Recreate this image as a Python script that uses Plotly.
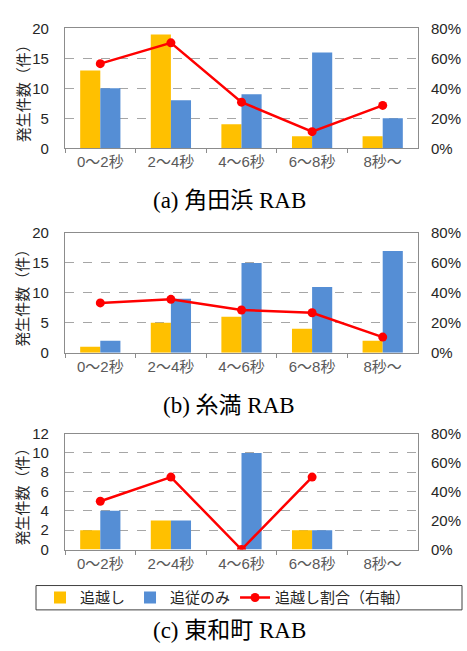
import plotly.graph_objects as go
from plotly.subplots import make_subplots

W, H = 467, 651

categories = ["0～2秒", "2～4秒", "4～6秒", "6～8秒", "8秒～"]

# (a) 角田浜 RAB
a_pass = [13, 19, 4, 2, 2]
a_follow = [10, 8, 9, 16, 5]
a_ratio = [0.565, 0.704, 0.308, 0.111, 0.286]

# (b) 糸満 RAB
b_pass = [1, 5, 6, 4, 2]
b_follow = [2, 9, 15, 11, 17]
b_ratio = [0.333, 0.357, 0.286, 0.267, 0.105]

# (c) 東和町 RAB
c_pass = [2, 3, 0, 2, None]
c_follow = [4, 3, 10, 2, None]
c_ratio = [0.333, 0.5, 0.0, 0.5, None]

panels = [
    ("(a) 角田浜 RAB", a_pass, a_follow, a_ratio, 20, 5),
    ("(b) 糸満 RAB", b_pass, b_follow, b_ratio, 20, 5),
    ("(c) 東和町 RAB", c_pass, c_follow, c_ratio, 12, 2),
]

# plot-area pixel boxes (top, bottom) and caption centres
plot_rows = [(20, 143), (230, 353), (436, 555)]
caption_y = [197, 407, 638]
x_left, x_right = 65, 418

ORANGE = "#FFC000"
BLUE = "#558ED5"
RED = "#FF0000"
FRAME = "#8c8c8c"
SANS = "Liberation Sans, Noto Sans CJK JP, sans-serif"
SERIF = "Liberation Serif, Noto Sans CJK JP, serif"


def px_x(x):
    return x / W


def px_y(y):
    return 1 - y / H


fig = make_subplots(rows=3, cols=1, specs=[[{"secondary_y": True}]] * 3)

annotations = []
for i, (caption, passing, follow, ratio, ymax, dtick) in enumerate(panels):
    row = i + 1
    show = row == 3
    fig.add_trace(go.Bar(x=categories, y=passing, name="追越し", marker_color=ORANGE,
                         marker_line_width=0, showlegend=show),
                  row=row, col=1, secondary_y=False)
    fig.add_trace(go.Bar(x=categories, y=follow, name="追従のみ", marker_color=BLUE,
                         marker_line_width=0, showlegend=show),
                  row=row, col=1, secondary_y=False)
    fig.add_trace(go.Scatter(x=categories, y=ratio, name="追越し割合（右軸）",
                             mode="lines+markers", connectgaps=False,
                             line=dict(color=RED, width=2.5),
                             marker=dict(color=RED, size=9), showlegend=show),
                  row=row, col=1, secondary_y=True)

    top, bottom = plot_rows[i]
    dom = [px_y(bottom), px_y(top)]
    fig.update_xaxes(domain=[px_x(x_left), px_x(x_right)], row=row, col=1,
                     type="category", showline=True, mirror=True, linecolor=FRAME,
                     linewidth=1.3, ticks="outside", tickson="boundaries", ticklen=4,
                     tickcolor=FRAME, tickfont=dict(family=SANS, size=15, color="#595959"),
                     showgrid=False, ticklabelstandoff=0)
    fig.update_yaxes(domain=dom, row=row, col=1, secondary_y=False,
                     range=[0, ymax], dtick=dtick, showline=True, mirror=True,
                     linecolor=FRAME, linewidth=1.3, showgrid=True, gridcolor="#a6a6a6",
                     griddash="dash", gridwidth=1, zeroline=False, ticks="",
                     tickfont=dict(family=SANS, size=15, color="#262626"),
                     ticklabelstandoff=12)
    fig.update_yaxes(row=row, col=1, secondary_y=True, range=[0, 0.8], dtick=0.2,
                     tickformat=".0%", showgrid=False, zeroline=False, showline=False,
                     ticks="", tickfont=dict(family=SANS, size=15, color="#262626"),
                     ticklabelstandoff=12)

    annotations.append(dict(text="発生件数（件）", textangle=-90, xref="paper", yref="paper",
                            x=px_x(23), y=px_y((top + bottom) / 2 + 2), showarrow=False,
                            xanchor="center", yanchor="middle",
                            font=dict(family=SANS, size=15, color="#262626")))
    annotations.append(dict(text=caption, xref="paper", yref="paper", x=px_x(229),
                            y=px_y(caption_y[i]), showarrow=False, xanchor="center",
                            yanchor="middle", font=dict(family=SERIF, size=23, color="#000000")))

# frame around the legend row
legend_box = dict(type="rect", xref="paper", yref="paper",
                  x0=px_x(36), x1=px_x(462), y0=px_y(617), y1=px_y(592),
                  line=dict(color="#404040", width=1), fillcolor="rgba(0,0,0,0)")

fig.update_layout(
    width=W, height=H, margin=dict(l=0, r=0, t=0, b=0),
    paper_bgcolor="white", plot_bgcolor="white",
    barmode="group", bargap=0.43, bargroupgap=0,
    annotations=annotations,
    shapes=[legend_box],
    legend=dict(orientation="h", x=px_x(40), y=px_y(604.5), xanchor="left", yanchor="middle",
                borderwidth=0, bgcolor="rgba(0,0,0,0)",
                font=dict(family=SANS, size=15, color="#262626"),
                traceorder="normal", itemwidth=30),
)

fig.write_html("out.html")
